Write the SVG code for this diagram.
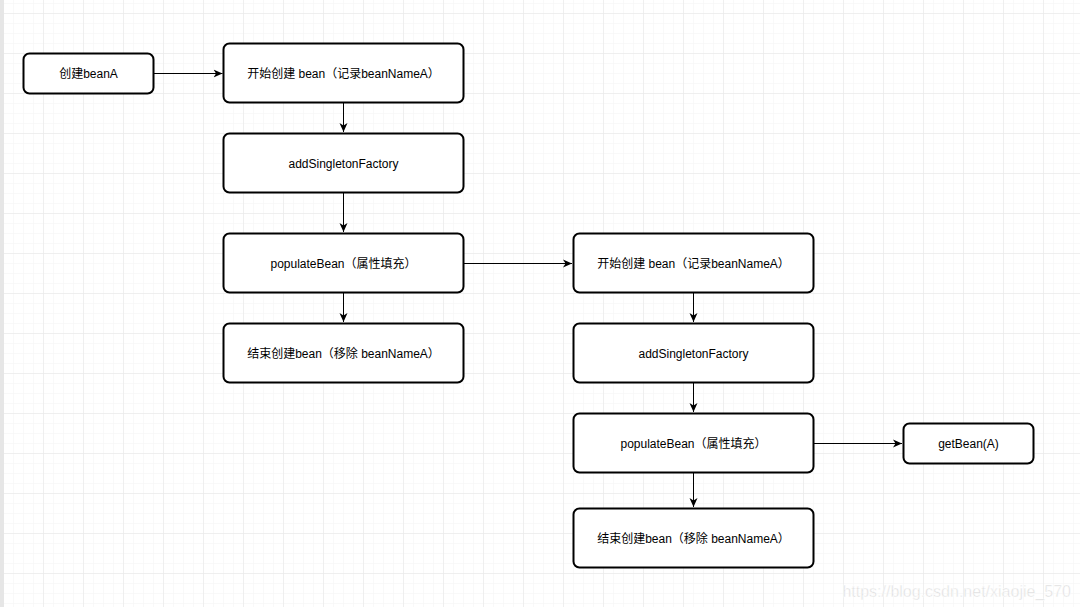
<svg xmlns="http://www.w3.org/2000/svg" width="1080" height="607" viewBox="0 0 1080 607">
<defs>
<pattern id="minor" x="3" y="3" width="10" height="10" patternUnits="userSpaceOnUse">
<path d="M0 0H10M0 0V10" fill="none" stroke="#f3f3f3" stroke-width="1"/>
</pattern>
<pattern id="major" x="3" y="13" width="40" height="40" patternUnits="userSpaceOnUse">
<path d="M0 0H40M0 0V40" fill="none" stroke="#e6e6e6" stroke-width="1"/>
</pattern>
<marker id="arr" viewBox="0 0 10 10" refX="9" refY="5" markerWidth="10" markerHeight="10" markerUnits="userSpaceOnUse" orient="auto">
<path d="M0 1 L9 5 L0 9 L2.5 5 Z" fill="#000"/>
</marker>
</defs>
<style>
.n rect{fill:#fff;stroke:#000;stroke-width:2}
.n text{font-family:"Liberation Sans","Noto Sans CJK SC",sans-serif;font-size:12px;fill:#000;text-anchor:middle;dominant-baseline:central}
.c path{fill:none;stroke:#000;stroke-width:1;marker-end:url(#arr)}
</style>
<rect width="1080" height="607" fill="#fff"/>
<rect width="1080" height="607" fill="url(#minor)"/>
<rect width="1080" height="607" fill="url(#major)"/>
<rect x="0" y="0" width="4" height="607" fill="#e6e6e6"/>
<g id="connectors" class="c">
<path d="M153.5 73.5H222.5"/>
<path d="M343.5 103V132"/>
<path d="M343.5 193V232"/>
<path d="M343.5 293V322"/>
<path d="M463 263.5H572"/>
<path d="M693.5 293V322"/>
<path d="M693.5 383V412"/>
<path d="M693.5 473V507"/>
<path d="M813 443.5H902"/>
</g>
<g id="n1" class="n"><rect x="23.5" y="53.5" width="130" height="40" rx="6"/><text x="88.5" y="73.5">创建beanA</text></g>
<g id="n2" class="n"><rect x="223.5" y="43.5" width="240" height="59" rx="6"/><text x="343.5" y="73.5">开始创建 bean（记录beanNameA）</text></g>
<g id="n3" class="n"><rect x="223.5" y="133.5" width="240" height="59" rx="6"/><text x="343.5" y="163.5">addSingletonFactory</text></g>
<g id="n4" class="n"><rect x="223.5" y="233.5" width="240" height="59" rx="6"/><text x="343.5" y="263.5">populateBean（属性填充）</text></g>
<g id="n5" class="n"><rect x="223.5" y="323.5" width="240" height="59" rx="6"/><text x="343.5" y="353.5">结束创建bean（移除 beanNameA）</text></g>
<g id="n6" class="n"><rect x="573.5" y="233.5" width="240" height="59" rx="6"/><text x="693.5" y="263.5">开始创建 bean（记录beanNameA）</text></g>
<g id="n7" class="n"><rect x="573.5" y="323.5" width="240" height="59" rx="6"/><text x="693.5" y="353.5">addSingletonFactory</text></g>
<g id="n8" class="n"><rect x="573.5" y="413.5" width="240" height="59" rx="6"/><text x="693.5" y="443.5">populateBean（属性填充）</text></g>
<g id="n9" class="n"><rect x="573.5" y="508.5" width="240" height="59" rx="6"/><text x="693.5" y="538.5">结束创建bean（移除 beanNameA）</text></g>
<g id="n10" class="n"><rect x="903.5" y="423.5" width="130" height="40" rx="6"/><text x="968.5" y="443.5">getBean(A)</text></g>
<text x="1071" y="597" text-anchor="end" font-family="Liberation Sans, Arial, sans-serif" font-size="16" fill="#dcdcdc" stroke="#fff" stroke-width="0.5">https://blog.csdn.net/xiaojie_570</text>
</svg>
